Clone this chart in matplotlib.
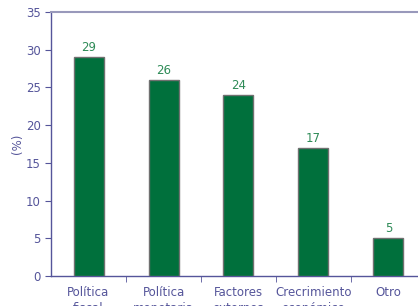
import matplotlib
matplotlib.use("Agg")
import matplotlib.pyplot as plt
import numpy as np

categories = ["Política\nfiscal", "Política\nmonetaria", "Factores\nexternos", "Crecrimiento\neconómico", "Otro"]
values = [29, 26, 24, 17, 5]
yticks = [0, 5, 10, 15, 20, 25, 30, 35]

axis_color = "#55559a"
bar_color = "#00703c"
label_color = "#2e8b57"

fig = plt.figure(figsize=(4.18, 3.06), dpi=100)
ax = fig.add_axes([51/418, 1-276/306, 375/418, (276-12)/306])
x = np.arange(len(categories))
ax.bar(x, values, width=0.4, color=bar_color, edgecolor="#707070", linewidth=1.0, zorder=3)
for xi, v in zip(x, values):
    ax.text(xi, v + 0.4, str(v), ha="center", va="bottom", color=label_color, fontsize=8.5)

ax.set_xlim(-0.5, len(categories) - 0.5)
ax.set_ylim(0, 35)
ax.set_yticks(yticks)
ax.set_xticks(x)
ax.set_xticklabels(categories, fontsize=8.5, color=axis_color, linespacing=1.3)
ax.set_xticks(np.arange(len(categories)) + 0.5, minor=True)
ax.tick_params(axis="x", which="major", length=0, pad=7)
ax.tick_params(axis="x", which="minor", length=4, color=axis_color, direction="out")
ax.tick_params(axis="y", length=4, color=axis_color, labelcolor=axis_color, labelsize=8.5, direction="out")
ax.set_ylabel("(%)", color=axis_color, fontsize=8.5, labelpad=1)

for s in ["left", "bottom"]:
    ax.spines[s].set_color(axis_color)
    ax.spines[s].set_linewidth(1.0)
ax.spines["top"].set_color("#9999bb")
ax.spines["top"].set_linewidth(1.5)
ax.spines["right"].set_visible(False)

fig.savefig("out.png", dpi=100)
